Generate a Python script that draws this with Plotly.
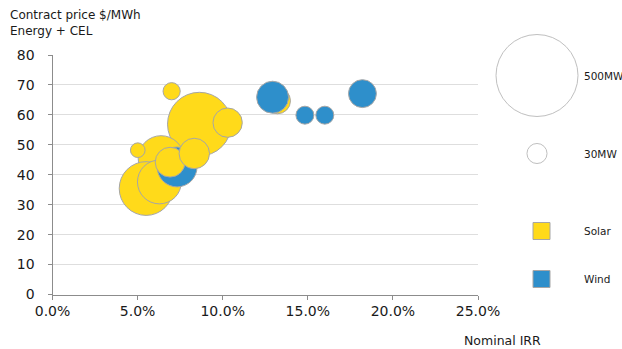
import plotly.graph_objects as go

# Projects in drawing order (back to front)
technology = ["Solar", "Solar", "Solar", "Solar", "Solar", "Solar", "Solar", "Solar",
              "Wind", "Solar", "Solar", "Wind", "Wind", "Wind", "Wind"]
nominal_irr = [13.22, 8.63, 10.29, 7.00, 6.38, 5.01, 5.50, 6.28,
               7.32, 6.91, 8.33, 12.93, 14.83, 16.00, 18.21]
contract_price = [64.7, 56.9, 57.4, 67.9, 45.4, 48.2, 35.4, 37.6,
                  42.6, 44.2, 47.1, 65.9, 59.9, 59.9, 67.1]
capacity_mw = [50, 302, 64, 22, 156, 16, 215, 143,
               118, 66, 69, 76, 24, 24, 58]

x_ticks = [0, 5, 10, 15, 20, 25]
y_ticks = [0, 10, 20, 30, 40, 50, 60, 70, 80]

size_legend_mw = [500, 30]
size_legend_labels = ["500MW", "30MW"]
tech_legend = ["Solar", "Wind"]

COLORS = {"Solar": "#FFDA1A", "Wind": "#2E8FCB"}
OUTLINE = "#A6A6A6"
FONT = "DejaVu Sans"
TEXT = "#1a1a1a"
SIZEREF = 2 * 500 / 82.0 ** 2  # 500 MW bubble -> ~82 px across

W, H = 622, 349
x0_px, x1_px = 52.5, 478.0
y0_px, y1_px = 294.5, 55.0

fig = go.Figure()

fig.add_trace(go.Scatter(
    x=nominal_irr, y=contract_price, mode="markers",
    marker=dict(size=capacity_mw, sizemode="area", sizeref=SIZEREF,
                color=[COLORS[t] for t in technology],
                line=dict(color=OUTLINE, width=1), opacity=1),
    cliponaxis=False, showlegend=False, hoverinfo="skip",
))

# Legend drawn on a pixel-unit overlay axis
fig.add_trace(go.Scatter(
    x=[537, 537], y=[75.5, 153.5], mode="markers",
    marker=dict(size=size_legend_mw, sizemode="area", sizeref=SIZEREF,
                color="rgba(255,255,255,0)", line=dict(color=OUTLINE, width=1)),
    xaxis="x2", yaxis="y2", cliponaxis=False, showlegend=False, hoverinfo="skip",
))
fig.add_trace(go.Scatter(
    x=[541.5, 541.5], y=[231, 279], mode="markers",
    marker=dict(size=17, symbol="square",
                color=[COLORS[t] for t in tech_legend],
                line=dict(color=OUTLINE, width=1)),
    xaxis="x2", yaxis="y2", cliponaxis=False, showlegend=False, hoverinfo="skip",
))

annotations = []
for label, yy in zip(size_legend_labels + tech_legend, [75.5, 153.5, 231, 279]):
    annotations.append(dict(x=581.5, y=yy, xref="x2", yref="y2", text=label,
                            showarrow=False, xanchor="left", yanchor="middle",
                            font=dict(family=FONT, size=10.5, color=TEXT)))
annotations.append(dict(x=8 / W, y=1 - 6 / H, xref="paper", yref="paper",
                        text="Contract price $/MWh<br>Energy + CEL", align="left",
                        showarrow=False, xanchor="left", yanchor="top",
                        font=dict(family=FONT, size=12, color=TEXT)))
annotations.append(dict(x=462 / W, y=1 - 340 / H, xref="paper", yref="paper",
                        text="Nominal IRR", showarrow=False,
                        xanchor="left", yanchor="middle",
                        font=dict(family=FONT, size=12.5, color=TEXT)))

fig.update_layout(
    template="none",
    width=W, height=H,
    margin=dict(l=0, r=0, t=0, b=0, pad=0),
    paper_bgcolor="white", plot_bgcolor="rgba(0,0,0,0)",
    xaxis=dict(domain=[x0_px / W, x1_px / W], range=[0, 25], automargin=False,
               tickvals=x_ticks, ticktext=[f"{v:.1f}%" for v in x_ticks],
               showgrid=False, zeroline=False,
               showline=True, linecolor="#8C8C8C", linewidth=1,
               ticks="outside", ticklen=4, tickcolor="#8C8C8C",
               tickfont=dict(family=FONT, size=14, color=TEXT)),
    yaxis=dict(domain=[1 - y0_px / H, 1 - y1_px / H], range=[0, 80], automargin=False,
               tickvals=y_ticks, showgrid=True, gridcolor="#DEDEDE", gridwidth=1,
               zeroline=False, showline=True, linecolor="#8C8C8C", linewidth=1,
               ticks="outside", ticklen=4, tickcolor="#8C8C8C",
               ticklabelstandoff=10,
               tickfont=dict(family=FONT, size=14, color=TEXT)),
    xaxis2=dict(domain=[0, 1], range=[0, W], visible=False, fixedrange=True,
                anchor="y2", automargin=False),
    yaxis2=dict(domain=[0, 1], range=[H, 0], visible=False, fixedrange=True,
                anchor="x2", automargin=False),
    annotations=annotations,
)

fig.write_html("out.html")
